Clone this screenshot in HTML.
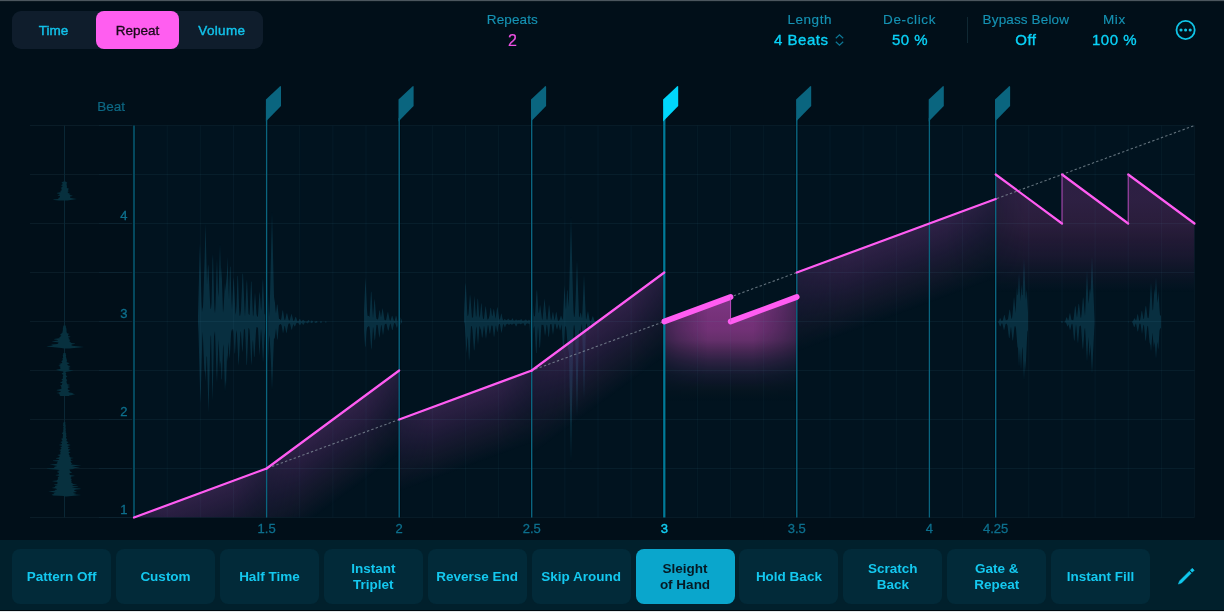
<!DOCTYPE html>
<html><head><meta charset="utf-8"><title>Repeat</title>
<style>
*{margin:0;padding:0;box-sizing:border-box}
html,body{width:1224px;height:612px;overflow:hidden;background:#010f19}
body{position:relative;font-family:"Liberation Sans",Arial,sans-serif;-webkit-font-smoothing:antialiased}
.topline{position:absolute;left:0;top:0;width:1224px;height:1px;background:#4b565e}
.topline2{position:absolute;left:0;top:1px;width:1224px;height:1px;background:#0b1820}
.seg{position:absolute;left:12px;top:11px;width:251px;height:38px;border-radius:9px;background:#0f1d2c}
.seg div{position:absolute;top:0;height:38px;line-height:39px;text-align:center;font-size:13.5px;color:#12c2ea;-webkit-text-stroke:0.4px #12c2ea}
.seg .sel{background:#ff5ef0;color:#1b0a1a;border-radius:8px;-webkit-text-stroke:0.35px #1b0a1a}
.lbl{position:absolute;font-size:13.5px;line-height:13.5px;color:#1592b3;text-align:center;white-space:nowrap;-webkit-text-stroke:0.15px #1592b3}
.val{position:absolute;font-size:15px;line-height:15px;color:#0ad2f8;text-align:center;white-space:nowrap;-webkit-text-stroke:0.35px #0ad2f8}
.sep{position:absolute;left:967px;top:17px;width:1px;height:26px;background:#102833}
.bar{position:absolute;left:0;top:540px;width:1224px;height:70px;background:#01202c}
.btm1{position:absolute;left:0;top:610px;width:1224px;height:1px;background:#000a10}
.btm2{position:absolute;left:0;top:611px;width:1224px;height:1px;background:#e8ecee}
.btn{position:absolute;top:549px;width:99px;height:55px;border-radius:8px;background:#022a39;color:#14c8ef;font-size:13.5px;font-weight:bold;display:flex;align-items:center;justify-content:center;text-align:center;line-height:16px}
.btn.on{background:#0aa6cc;color:#061a24}
</style></head><body>
<div class="topline"></div><div class="topline2"></div>
<svg width="1224" height="612" viewBox="0 0 1224 612" style="position:absolute;left:0;top:0">
<defs><linearGradient id="fgS" gradientUnits="userSpaceOnUse" x1="0" y1="175" x2="0" y2="292"><stop offset="0.0" stop-color="#633071" stop-opacity="0.45"/><stop offset="0.214" stop-color="#65306d" stop-opacity="0.45"/><stop offset="0.427" stop-color="#632d64" stop-opacity="0.42"/><stop offset="0.556" stop-color="#652862" stop-opacity="0.33"/><stop offset="0.684" stop-color="#652763" stop-opacity="0.25"/><stop offset="0.812" stop-color="#6d2a64" stop-opacity="0.13"/><stop offset="1.0" stop-color="#6d2a64" stop-opacity="0"/></linearGradient><linearGradient id="fgSm" gradientUnits="userSpaceOnUse" x1="995.7" y1="0" x2="1194.5" y2="0"><stop offset="0" stop-color="#fff" stop-opacity="0.8"/><stop offset="0.15" stop-color="#fff" stop-opacity="1"/><stop offset="1" stop-color="#fff" stop-opacity="1"/></linearGradient><mask id="mS" maskUnits="userSpaceOnUse" x="990" y="150" width="210" height="370"><rect x="990" y="150" width="210" height="370" fill="url(#fgSm)"/></mask><linearGradient id="pg0" gradientUnits="userSpaceOnUse" x1="134" y1="517.5" x2="157.6" y2="581.3"><stop offset="0.0" stop-color="#5d316f" stop-opacity="0.5"/><stop offset="0.206" stop-color="#602e6f" stop-opacity="0.4"/><stop offset="0.441" stop-color="#652d70" stop-opacity="0.27"/><stop offset="0.735" stop-color="#6d3264" stop-opacity="0.13"/><stop offset="1.0" stop-color="#6d3264" stop-opacity="0"/></linearGradient><linearGradient id="pm0g" gradientUnits="userSpaceOnUse" x1="134" y1="0" x2="266.6" y2="0"><stop offset="0" stop-color="#fff" stop-opacity="0.72"/><stop offset="0.25" stop-color="#fff" stop-opacity="1"/><stop offset="0.75" stop-color="#fff" stop-opacity="1"/><stop offset="1" stop-color="#fff" stop-opacity="0.72"/></linearGradient><mask id="pm0" maskUnits="userSpaceOnUse" x="133" y="100" width="134.6" height="430"><rect x="133" y="100" width="134.6" height="430" fill="url(#pm0g)"/></mask><linearGradient id="pg1" gradientUnits="userSpaceOnUse" x1="266.6" y1="468.5" x2="307" y2="523.2"><stop offset="0.0" stop-color="#5d316f" stop-opacity="0.5"/><stop offset="0.206" stop-color="#602e6f" stop-opacity="0.4"/><stop offset="0.441" stop-color="#652d70" stop-opacity="0.27"/><stop offset="0.735" stop-color="#6d3264" stop-opacity="0.13"/><stop offset="1.0" stop-color="#6d3264" stop-opacity="0"/></linearGradient><linearGradient id="pm1g" gradientUnits="userSpaceOnUse" x1="266.6" y1="0" x2="399.2" y2="0"><stop offset="0" stop-color="#fff" stop-opacity="0.72"/><stop offset="0.25" stop-color="#fff" stop-opacity="1"/><stop offset="0.75" stop-color="#fff" stop-opacity="1"/><stop offset="1" stop-color="#fff" stop-opacity="0.72"/></linearGradient><mask id="pm1" maskUnits="userSpaceOnUse" x="265.6" y="100" width="134.6" height="430"><rect x="265.6" y="100" width="134.6" height="430" fill="url(#pm1g)"/></mask><linearGradient id="pg2" gradientUnits="userSpaceOnUse" x1="399.2" y1="419.5" x2="422.7" y2="483.3"><stop offset="0.0" stop-color="#5d316f" stop-opacity="0.5"/><stop offset="0.206" stop-color="#602e6f" stop-opacity="0.4"/><stop offset="0.441" stop-color="#652d70" stop-opacity="0.27"/><stop offset="0.735" stop-color="#6d3264" stop-opacity="0.13"/><stop offset="1.0" stop-color="#6d3264" stop-opacity="0"/></linearGradient><linearGradient id="pm2g" gradientUnits="userSpaceOnUse" x1="399.2" y1="0" x2="531.7" y2="0"><stop offset="0" stop-color="#fff" stop-opacity="0.72"/><stop offset="0.25" stop-color="#fff" stop-opacity="1"/><stop offset="0.75" stop-color="#fff" stop-opacity="1"/><stop offset="1" stop-color="#fff" stop-opacity="0.72"/></linearGradient><mask id="pm2" maskUnits="userSpaceOnUse" x="398.2" y="100" width="134.6" height="430"><rect x="398.2" y="100" width="134.6" height="430" fill="url(#pm2g)"/></mask><linearGradient id="pg3" gradientUnits="userSpaceOnUse" x1="531.7" y1="370.5" x2="572.1" y2="425.2"><stop offset="0.0" stop-color="#5d316f" stop-opacity="0.5"/><stop offset="0.206" stop-color="#602e6f" stop-opacity="0.4"/><stop offset="0.441" stop-color="#652d70" stop-opacity="0.27"/><stop offset="0.735" stop-color="#6d3264" stop-opacity="0.13"/><stop offset="1.0" stop-color="#6d3264" stop-opacity="0"/></linearGradient><linearGradient id="pm3g" gradientUnits="userSpaceOnUse" x1="531.7" y1="0" x2="664.3" y2="0"><stop offset="0" stop-color="#fff" stop-opacity="0.72"/><stop offset="0.25" stop-color="#fff" stop-opacity="1"/><stop offset="0.75" stop-color="#fff" stop-opacity="1"/><stop offset="1" stop-color="#fff" stop-opacity="0.72"/></linearGradient><mask id="pm3" maskUnits="userSpaceOnUse" x="530.7" y="100" width="134.6" height="430"><rect x="530.7" y="100" width="134.6" height="430" fill="url(#pm3g)"/></mask><linearGradient id="pg4" gradientUnits="userSpaceOnUse" x1="796.8" y1="272.5" x2="822.8" y2="342.7"><stop offset="0.0" stop-color="#5d316f" stop-opacity="0.5"/><stop offset="0.206" stop-color="#602e6f" stop-opacity="0.4"/><stop offset="0.441" stop-color="#652d70" stop-opacity="0.27"/><stop offset="0.735" stop-color="#6d3264" stop-opacity="0.13"/><stop offset="1.0" stop-color="#6d3264" stop-opacity="0"/></linearGradient><linearGradient id="pm4g" gradientUnits="userSpaceOnUse" x1="796.8" y1="0" x2="995.7" y2="0"><stop offset="0" stop-color="#fff" stop-opacity="0.72"/><stop offset="0.25" stop-color="#fff" stop-opacity="1"/><stop offset="0.75" stop-color="#fff" stop-opacity="1"/><stop offset="1" stop-color="#fff" stop-opacity="0.72"/></linearGradient><mask id="pm4" maskUnits="userSpaceOnUse" x="795.8" y="100" width="200.8" height="430"><rect x="795.8" y="100" width="200.8" height="430" fill="url(#pm4g)"/></mask><linearGradient id="fgT" gradientUnits="userSpaceOnUse" x1="0" y1="297" x2="0" y2="402"><stop offset="0.0" stop-color="#d14dc7" stop-opacity="0.6"/><stop offset="0.2" stop-color="#d64bc4" stop-opacity="0.55"/><stop offset="0.314" stop-color="#da4dc6" stop-opacity="0.52"/><stop offset="0.41" stop-color="#d34fbf" stop-opacity="0.48"/><stop offset="0.505" stop-color="#d24fbc" stop-opacity="0.35"/><stop offset="0.6" stop-color="#cd54c0" stop-opacity="0.23"/><stop offset="0.743" stop-color="#b559b5" stop-opacity="0.1"/><stop offset="0.8" stop-color="#d851b9" stop-opacity="0.065"/><stop offset="0.933" stop-color="#97451f" stop-opacity="0.02"/><stop offset="1.0" stop-color="#97451f" stop-opacity="0"/></linearGradient><linearGradient id="fgTm" gradientUnits="userSpaceOnUse" x1="664.3" y1="0" x2="796.8" y2="0"><stop offset="0" stop-color="#fff" stop-opacity="0.55"/><stop offset="0.1" stop-color="#fff" stop-opacity="0.72"/><stop offset="0.33" stop-color="#fff" stop-opacity="1"/><stop offset="0.67" stop-color="#fff" stop-opacity="1"/><stop offset="0.9" stop-color="#fff" stop-opacity="0.7"/><stop offset="1" stop-color="#fff" stop-opacity="0.55"/></linearGradient><mask id="mT" maskUnits="userSpaceOnUse" x="600" y="250" width="260" height="270"><rect x="600" y="250" width="260" height="270" fill="url(#fgTm)"/></mask>
<clipPath id="plot"><rect x="134" y="125.5" width="1060.5" height="392"/></clipPath>
</defs>
<rect x="134" y="125.5" width="1060.5" height="392" fill="#01131f"/>
<line x1="30" y1="517.5" x2="99" y2="517.5" stroke="#0a1c27"/><line x1="99" y1="517.5" x2="134" y2="517.5" stroke="#0c2330"/><line x1="30" y1="468.5" x2="99" y2="468.5" stroke="#0a1c27"/><line x1="99" y1="468.5" x2="134" y2="468.5" stroke="#0c2330"/><line x1="30" y1="419.5" x2="99" y2="419.5" stroke="#0a1c27"/><line x1="99" y1="419.5" x2="134" y2="419.5" stroke="#0c2330"/><line x1="30" y1="370.5" x2="99" y2="370.5" stroke="#0a1c27"/><line x1="99" y1="370.5" x2="134" y2="370.5" stroke="#0c2330"/><line x1="30" y1="321.5" x2="99" y2="321.5" stroke="#0a1c27"/><line x1="99" y1="321.5" x2="134" y2="321.5" stroke="#0c2330"/><line x1="30" y1="272.5" x2="99" y2="272.5" stroke="#0a1c27"/><line x1="99" y1="272.5" x2="134" y2="272.5" stroke="#0c2330"/><line x1="30" y1="223.5" x2="99" y2="223.5" stroke="#0a1c27"/><line x1="99" y1="223.5" x2="134" y2="223.5" stroke="#0c2330"/><line x1="30" y1="174.5" x2="99" y2="174.5" stroke="#0a1c27"/><line x1="99" y1="174.5" x2="134" y2="174.5" stroke="#0c2330"/><line x1="30" y1="125.5" x2="99" y2="125.5" stroke="#0a1c27"/><line x1="99" y1="125.5" x2="134" y2="125.5" stroke="#0c2330"/>
<line x1="64.5" y1="125.5" x2="64.5" y2="517.5" stroke="#0a2735" stroke-width="1"/>
<path d="M64 496.5 L63.9 496 L52.6 495.5 L52.6 495 L51.4 494.5 L53.9 494 L54.3 493.5 L52.9 493 L56 492.5 L51.5 492 L48.1 491.5 L52.7 491 L55.5 490.5 L54.7 490 L56.9 489.5 L56.8 489 L55.6 488.5 L51.5 488 L53.4 487.5 L54.8 487 L55.3 486.5 L54.9 486 L57.6 485.5 L54.6 485 L54 484.5 L57.2 484 L57.7 483.5 L56.7 483 L57.7 482.5 L57.6 482 L53.8 481.5 L51.8 481 L56.8 480.5 L57 480 L58.3 479.5 L57.1 479 L58.4 478.5 L57.7 478 L57.7 477.5 L58.2 477 L58.8 476.5 L59.3 476 L56.6 475.5 L55.2 475 L58.5 474.5 L58.6 474 L59 473.5 L58.8 473 L56.8 472.5 L59.1 472 L57.4 471.5 L57.1 471 L59.2 470.5 L59.4 470 L55.2 469.5 L47.9 469 L46.4 468.5 L53.8 468 L54.5 467.5 L54.3 467 L55.4 466.5 L57.3 466 L54.7 465.5 L52.6 465 L49.4 464.5 L55.6 464 L57.6 463.5 L56.7 463 L57.4 462.5 L57.4 462 L58.1 461.5 L53 461 L53.1 460.5 L58.1 460 L59.3 459.5 L58.7 459 L55.8 458.5 L56.2 458 L58.8 457.5 L59.3 457 L59.6 456.5 L59.6 456 L58.2 455.5 L57.2 455 L59.7 454.5 L60.8 454 L60 453.5 L60.8 453 L59.9 452.5 L60.3 452 L60.7 451.5 L60.7 451 L60.2 450.5 L58.9 450 L60.7 449.5 L61.1 449 L61.5 448.5 L61 448 L60.1 447.5 L61.3 447 L61.7 446.5 L62 446 L60.8 445.5 L58.6 445 L60.6 444.5 L62 444 L61.9 443.5 L62 443 L60.8 442.5 L60.5 442 L61.7 441.5 L62.6 441 L62.2 440.5 L62.1 440 L62 439.5 L60.7 439 L62.1 438.5 L63 438 L62.5 437.5 L63 437 L62.7 436.5 L62.6 436 L63 435.5 L63.1 435 L62.9 434.5 L62.9 434 L61.9 433.5 L61.9 433 L62.9 432.5 L63 432 L63.3 431.5 L63.2 431 L63.1 430.5 L63.4 430 L63.3 429.5 L63.3 429 L63.5 428.5 L63.3 428 L63.1 427.5 L63.5 427 L63.7 426.5 L63.5 426 L63 425.5 L62.8 425 L63.3 424.5 L63.5 424 L63.1 423.5 L63.1 423 L63.6 422.5 L64 422 L65.1 422 L65.4 422.5 L65.4 423 L65.2 423.5 L65.4 424 L65.4 424.5 L65.3 425 L65.6 425.5 L65.9 426 L65.6 426.5 L65.3 427 L65.5 427.5 L65.7 428 L65.7 428.5 L65.7 429 L65.8 429.5 L65.8 430 L65.6 430.5 L65.5 431 L66 431.5 L65.7 432 L65.8 432.5 L66 433 L66.4 433.5 L66.2 434 L66.2 434.5 L66.1 435 L66.3 435.5 L66.2 436 L66.9 436.5 L66 437 L66 437.5 L66 438 L66.5 438.5 L66.6 439 L67.4 439.5 L66.8 440 L66.5 440.5 L66.3 441 L67.1 441.5 L68.2 442 L68.4 442.5 L67.3 443 L66.7 443.5 L67.5 444 L69.1 444.5 L70.8 445 L69.3 445.5 L67.6 446 L67.6 446.5 L69.4 447 L69.8 447.5 L68.2 448 L68.2 448.5 L67.9 449 L70.5 449.5 L70.1 450 L68.7 450.5 L68.8 451 L68.2 451.5 L69.4 452 L70.7 452.5 L69.2 453 L68.5 453.5 L69.4 454 L68.7 454.5 L69 455 L69.8 455.5 L69.5 456 L69.6 456.5 L69.6 457 L70.9 457.5 L73.9 458 L71 458.5 L70.4 459 L71.3 459.5 L70.2 460 L73.2 460.5 L70.5 461 L70.6 461.5 L71.1 462 L71.1 462.5 L71.4 463 L72.6 463.5 L71.3 464 L71.1 464.5 L75.9 465 L81.6 465.5 L75.5 466 L72.1 466.5 L76.1 467 L80.4 467.5 L75.8 468 L73.5 468.5 L73.7 469 L69.5 469.5 L69.4 470 L70 470.5 L70.3 471 L70.1 471.5 L71.7 472 L72 472.5 L70.6 473 L69.3 473.5 L69.4 474 L69.8 474.5 L70.5 475 L73.4 475.5 L75 476 L71.5 476.5 L70.8 477 L71.5 477.5 L70.2 478 L71.1 478.5 L71.5 479 L71.9 479.5 L71 480 L71.1 480.5 L72 481 L71.6 481.5 L71.1 482 L71.5 482.5 L71.7 483 L72.7 483.5 L73.2 484 L77.6 484.5 L73.6 485 L71.9 485.5 L73.9 486 L78.7 486.5 L77.1 487 L71.8 487.5 L74.7 488 L79.8 488.5 L81.3 489 L76.2 489.5 L74.1 490 L74.3 490.5 L74.8 491 L76.4 491.5 L76.9 492 L73.7 492.5 L73.1 493 L76.5 493.5 L73.6 494 L76.4 494.5 L81.3 495 L76.4 495.5 L71.6 496 L66.8 496.5ZM59.2 396 L60.4 395.5 L59.6 395 L59.7 394.5 L59.3 394 L59 393.5 L56.2 393 L58.8 392.5 L60 392 L61.2 391.5 L59.9 391 L57.2 390.5 L56.3 390 L58.9 389.5 L60.8 389 L61.7 388.5 L61.2 388 L61.4 387.5 L61.2 387 L61.2 386.5 L60.7 386 L60 385.5 L61.8 385 L61.9 384.5 L62.1 384 L62.5 383.5 L61.4 383 L59.9 382.5 L61.1 382 L62.2 381.5 L62.2 381 L62.6 380.5 L62.4 380 L61.3 379.5 L62 379 L63 378.5 L62.9 378 L62.7 377.5 L63.1 377 L62.5 376.5 L63 376 L63.1 375.5 L63.3 375 L62.8 374.5 L61.9 374 L61.7 373.5 L62.6 373 L63.4 372.5 L63.2 372 L63.3 371.5 L59.7 371 L58.3 370.5 L55.9 370 L57.3 369.5 L59.8 369 L60.9 368.5 L59.9 368 L60.3 367.5 L60.3 367 L60.3 366.5 L58.5 366 L58.9 365.5 L60.6 365 L60.3 364.5 L58.8 364 L60.8 363.5 L61.8 363 L62.1 362.5 L62.4 362 L61.2 361.5 L61.4 361 L62.3 360.5 L62.8 360 L62.6 359.5 L62.7 359 L62.2 358.5 L62.9 358 L63.1 357.5 L63.1 357 L63 356.5 L62.8 356 L62.7 355.5 L63 355 L63.2 354.5 L63.2 354 L63.3 353.5 L63.4 353 L65.7 353 L65.7 353.5 L65.6 354 L65.9 354.5 L65.9 355 L66.2 355.5 L66.1 356 L65.8 356.5 L65.9 357 L66.2 357.5 L66.4 358 L66.3 358.5 L66.7 359 L66.8 359.5 L66.5 360 L67.4 360.5 L66.7 361 L66.9 361.5 L66.5 362 L67.6 362.5 L69.2 363 L69.4 363.5 L67.8 364 L67.2 364.5 L67.6 365 L68.2 365.5 L70.1 366 L70.4 366.5 L68.4 367 L69.1 367.5 L70.9 368 L69.1 368.5 L68.5 369 L69.2 369.5 L70.1 370 L73.7 370.5 L71.7 371 L68.2 371.5 L65.5 372 L65.5 372.5 L65.9 373 L66.3 373.5 L66.2 374 L65.6 374.5 L66.1 375 L66 375.5 L66.9 376 L67.4 376.5 L66.5 377 L66.1 377.5 L66.2 378 L66 378.5 L66.4 379 L66.6 379.5 L67.4 380 L67 380.5 L66.5 381 L66.5 381.5 L66.6 382 L66.5 382.5 L67.2 383 L67.2 383.5 L66.6 384 L68.4 384.5 L70.2 385 L68.3 385.5 L67.4 386 L68.6 386.5 L70.2 387 L68.9 387.5 L68 388 L67.9 388.5 L67.6 389 L68 389.5 L68.9 390 L70.4 390.5 L68.9 391 L68.5 391.5 L68.3 392 L69.6 392.5 L72.6 393 L74 393.5 L71.5 394 L75.5 394.5 L72.6 395 L69.3 395.5 L69 396ZM64 348.5 L61.3 348 L56.4 347.5 L51.4 347 L46.4 346.5 L48.4 346 L53.3 345.5 L51.2 345 L51.9 344.5 L57.1 344 L58.4 343.5 L57.9 343 L58.9 342.5 L55.7 342 L51.5 341.5 L53.8 341 L58 340.5 L57.6 340 L54.5 339.5 L53.9 339 L57.1 338.5 L60.3 338 L58.7 337.5 L60.1 337 L60.3 336.5 L61.3 336 L61.1 335.5 L59.9 335 L60.2 334.5 L61.3 334 L61.6 333.5 L61.4 333 L62.5 332.5 L62.7 332 L62.5 331.5 L62.5 331 L62.9 330.5 L62.7 330 L62.9 329.5 L62.9 329 L62.8 328.5 L62.9 328 L63.1 327.5 L63.1 327 L63.1 326.5 L63.5 326 L63.3 325.5 L65.7 325.5 L65.8 326 L65.9 326.5 L65.8 327 L65.9 327.5 L66.4 328 L66.3 328.5 L66.3 329 L66.4 329.5 L66.8 330 L66.6 330.5 L66.2 331 L66.5 331.5 L67 332 L66.8 332.5 L66.6 333 L68 333.5 L69.5 334 L68.5 334.5 L67.7 335 L68.4 335.5 L67.9 336 L70.1 336.5 L70.6 337 L68.4 337.5 L68.3 338 L69.5 338.5 L68.5 339 L69.8 339.5 L69.6 340 L70.5 340.5 L69 341 L69.8 341.5 L70.4 342 L70.6 342.5 L71.7 343 L75.1 343.5 L74.6 344 L71.2 344.5 L72.2 345 L71.2 345.5 L74.4 346 L79.4 346.5 L84.2 347 L79.3 347.5 L74.3 348 L69.3 348.5ZM59.2 200.5 L54.2 200 L52.9 199.5 L57.9 199 L58.8 198.5 L58 198 L59.7 197.5 L59.6 197 L60.1 196.5 L59.6 196 L57.4 195.5 L58.3 195 L59.6 194.5 L59.6 194 L57.2 193.5 L56.6 193 L58.9 192.5 L61.3 192 L60.5 191.5 L59.7 191 L61.7 190.5 L61.2 190 L61.9 189.5 L61.3 189 L61.6 188.5 L60.5 188 L61.4 187.5 L62.2 187 L62.4 186.5 L62.5 186 L61.2 185.5 L61.1 185 L62.4 184.5 L62.5 184 L62.7 183.5 L61.8 183 L61.6 182.5 L62.5 182 L63.5 181.5 L65.5 181.5 L66.3 182 L67 182.5 L67.4 183 L66.6 183.5 L66.5 184 L66.6 184.5 L66.8 185 L66.6 185.5 L67.4 186 L66.8 186.5 L66.9 187 L66.7 187.5 L67.2 188 L68.2 188.5 L69.4 189 L68.1 189.5 L67.9 190 L67.9 190.5 L69.2 191 L68.1 191.5 L67.5 192 L67.9 192.5 L68.1 193 L69.2 193.5 L70.9 194 L69.3 194.5 L69.7 195 L72.1 195.5 L72.7 196 L70.1 196.5 L70.1 197 L69.9 197.5 L71.1 198 L73.7 198.5 L76.9 199 L73.9 199.5 L70.6 200 L67.4 200.5Z" fill="#07303e"/>
<path d="M198 315.7 L198.5 296 L199 276.2 L199.5 256.4 L200 243 L200.5 262.7 L201 282.5 L201.5 302.3 L202 312.2 L202.5 308.6 L203 306.9 L203.5 294.1 L204 277.6 L204.5 263.9 L205 243.6 L205.5 223 L206 243.6 L206.5 264.2 L207 284.9 L207.5 275.1 L208 263.9 L208.5 267 L209 278.5 L209.5 289.9 L210 301.4 L210.5 309.1 L211 308.6 L211.5 303.3 L212 281.6 L212.5 259.9 L213 253.8 L213.5 275.5 L214 297.1 L214.5 309.2 L215 313.6 L215.5 305.8 L216 288.6 L216.5 271.5 L217 257.7 L217.5 274.8 L218 291.9 L218.5 297.2 L219 279.5 L219.5 261.7 L220 244 L220.5 261.7 L221 279.5 L221.5 266.4 L222 281.9 L222.5 297.3 L223 312.8 L223.5 309.3 L224 300.2 L224.5 291.1 L225 282 L225.5 291.1 L226 284.6 L226.5 278.9 L227 272.5 L227.5 256 L228 272.5 L228.5 289 L229 299.8 L229.5 283.1 L230 266.4 L230.5 266.9 L231 283.6 L231.5 300.3 L232 309.8 L232.5 298.8 L233 287.8 L233.5 276.8 L234 282.1 L234.5 293.1 L235 304.1 L235.5 314.7 L236 312.3 L236.5 305.4 L237 290.4 L237.5 275.4 L238 276.4 L238.5 291.3 L239 306.3 L239.5 315.2 L240 316.2 L240.5 313.8 L241 309.9 L241.5 297.9 L242 285.9 L242.5 274 L243 273.2 L243.5 285.2 L244 297.2 L244.5 309.2 L245 316.5 L245.5 306.7 L246 295.1 L246.5 283.6 L247 279 L247.5 290.5 L248 302.1 L248.5 313.6 L249 314.8 L249.5 315.1 L250 307.3 L250.5 294.5 L251 281.7 L251.5 281.6 L252 294.4 L252.5 307.2 L253 316.7 L253.5 314.7 L254 307.1 L254.5 299.5 L255 292 L255.5 298.9 L256 306.5 L256.5 314.1 L257 316.2 L257.5 317 L258 315.7 L258.5 307.7 L259 299.6 L259.5 291.6 L260 295 L260.5 303 L261 311 L261.5 307.4 L262 295 L262.5 282.7 L263 278 L263.5 290.4 L264 302.8 L264.5 314.7 L265 313.8 L265.5 315.9 L266 310.7 L266.5 298 L267 285.3 L267.5 279.8 L268 292.5 L268.5 305.1 L269 317.1 L269.5 310.5 L270 296.6 L270.5 275.5 L271 254.3 L271.5 233.2 L272 212 L272.5 233.2 L273 254.3 L273.5 275.5 L274 296.6 L274.5 299.9 L275 303 L275.5 309.9 L276 313.4 L276.5 308.9 L277 304.3 L277.5 305.1 L278 309.7 L278.5 314.2 L279 318.8 L279.5 318.9 L280 319.1 L280.5 320 L281 320.1 L281.5 317.4 L282 314 L282.5 310.6 L283 310.4 L283.5 313.8 L284 317.3 L284.5 319.8 L285 320.2 L285.5 318.6 L286 316.2 L286.5 313.9 L287 312.7 L287.5 315 L288 317.3 L288.5 319.6 L289 320.4 L289.5 320.4 L290 319.2 L290.5 317.3 L291 315.4 L291.5 313.6 L292 315.5 L292.5 317.5 L293 319.4 L293.5 320.9 L294 321.1 L294.5 319.8 L295 318.3 L295.5 316.8 L296 317 L296.5 318.5 L297 320 L297.5 321.2 L298 321.3 L298.5 320.9 L299 320 L299.5 319.1 L300 319.1 L300.5 320 L301 321 L301.5 321.5 L302 320.9 L302.5 320.3 L303 319.7 L303.5 319.9 L304 320.5 L304.5 321.1 L305 321.5 L305.5 321.5 L306 321.5 L306.5 321.5 L307 321.5 L307.5 321.1 L308 320.4 L308.5 319.8 L309 320.4 L309.5 321.1 L309.5 322.5 L309 322.5 L308.5 322.6 L308 323.1 L307.5 323.5 L307 323.3 L306.5 322.8 L306 322.5 L305.5 322.5 L305 322.5 L304.5 322.9 L304 323.9 L303.5 324.8 L303 324.8 L302.5 323.9 L302 322.9 L301.5 323.1 L301 323.8 L300.5 324.6 L300 325.4 L299.5 324.8 L299 324.1 L298.5 323.3 L298 322.9 L297.5 322.8 L297 322.9 L296.5 322.9 L296 324 L295.5 325.2 L295 326.3 L294.5 326.4 L294 325.3 L293.5 324.1 L293 325.3 L292.5 327.3 L292 329.4 L291.5 329.8 L291 327.7 L290.5 325.6 L290 323.6 L289.5 323.4 L289 323.5 L288.5 323.7 L288 325.4 L287.5 328.1 L287 330.8 L286.5 333.5 L286 331.7 L285.5 329 L285 326.2 L284.5 325.8 L284 328.6 L283.5 331.4 L283 333.4 L282.5 330.6 L282 327.8 L281.5 325 L281 324.5 L280.5 324.1 L280 324.2 L279.5 324.8 L279 324.9 L278.5 329.4 L278 334.8 L277.5 340.2 L277 337.9 L276.5 332.5 L276 328.3 L275.5 332.2 L275 336.2 L274.5 339.2 L274 337.7 L273.5 350.8 L273 363.8 L272.5 376.9 L272 390 L271.5 376.9 L271 363.8 L270.5 352.6 L270 343.9 L269.5 335.2 L269 338.6 L268.5 350.4 L268 362.2 L267.5 358.1 L267 346.4 L266.5 334.6 L266 328.1 L265.5 330.5 L265 331.4 L264.5 337.2 L264 347 L263.5 356.8 L263 362.9 L262.5 353.1 L262 343.2 L261.5 333.4 L261 328.4 L260.5 336.3 L260 346.2 L259.5 356.2 L259 347 L258.5 337.1 L258 327.8 L257.5 327.6 L257 327.2 L256.5 327 L256 331.2 L255.5 339.8 L255 348.3 L254.5 356.9 L254 356.6 L253.5 348 L253 339.5 L252.5 342.2 L252 353.8 L251.5 365.5 L251 360.6 L250.5 349 L250 337.4 L249.5 329.9 L249 328.6 L248.5 327.7 L248 338.1 L247.5 351.2 L247 364.2 L246.5 365.2 L246 352.2 L245.5 339.1 L245 329.4 L244.5 329.4 L244 328.6 L243.5 336.3 L243 344.4 L242.5 352.5 L242 349 L241.5 340.8 L241 332.7 L240.5 330.8 L240 339.1 L239.5 349.6 L239 360.1 L238.5 366.1 L238 355.5 L237.5 345 L237 334.5 L236.5 330.1 L236 333.8 L235.5 343.9 L235 353.9 L234.5 352.4 L234 342.4 L233.5 332.3 L233 328.9 L232.5 329.3 L232 331.7 L231.5 329.2 L231 334.5 L230.5 344.1 L230 353.7 L229.5 358.7 L229 349.1 L228.5 342 L228 352 L227.5 362 L227 354.7 L226.5 370.6 L226 386.5 L225.5 380.1 L225 392 L224.5 376.1 L224 360.2 L223.5 344.3 L223 347.3 L222.5 362.9 L222 378.5 L221.5 380 L221 364.4 L220.5 360.6 L220 372 L219.5 360.6 L219 349.3 L218.5 339.2 L218 353.8 L217.5 368.5 L217 383.2 L216.5 374 L216 359.4 L215.5 344.7 L215 331 L214.5 333.8 L214 336.8 L213.5 359.6 L213 382.5 L212.5 401.3 L212 378.4 L211.5 355.5 L211 334.8 L210.5 337.2 L210 356.1 L209.5 375.1 L209 394 L208.5 413 L208 394 L207.5 375.1 L207 356.1 L206.5 357 L206 369.5 L205.5 382 L205 369.5 L204.5 372.4 L204 362.6 L203.5 350.5 L203 338.4 L202.5 331.4 L202 349 L201.5 367.3 L201 385.6 L200.5 403.9 L200 388.5 L199.5 370.1 L199 351.8 L198.5 333.5 L198 322.5ZM310.5 321.5 L311 321 L311.5 320.5 L312 320.4 L312.5 320.9 L313 321.4 L313 322.5 L312.5 322.5 L312 322.8 L311.5 323.2 L311 323.1 L310.5 322.7ZM314.5 321.5 L315 321.5 L315.5 321.4 L316 321.1 L316.5 321 L317 321.3 L317.5 321.5 L317.5 322.5 L317 322.6 L316.5 322.8 L316 323.1 L315.5 322.9 L315 322.7 L314.5 322.5ZM320 321.5 L320.5 321.5 L321 321.3 L321.5 321.4 L322 321.5 L322 322.5 L321.5 322.5 L321 322.7 L320.5 322.7 L320 322.5ZM325 321.5 L325.5 321.4 L326 321.4 L326.5 321.5 L326.5 322.5 L326 322.5 L325.5 322.5 L325 322.5ZM364 310.9 L364.5 299.7 L365 288.6 L365.5 277.5 L366 287.4 L366.5 298.5 L367 309.6 L367.5 315.5 L368 315.9 L368.5 315.8 L369 316.2 L369.5 317.1 L370 309.7 L370.5 300.4 L371 291.2 L371.5 292.4 L372 301.7 L372.5 310.9 L373 318.2 L373.5 312.2 L374 305.3 L374.5 298.5 L375 302.6 L375.5 309.4 L376 316.3 L376.5 318.7 L377 319.2 L377.5 319.4 L378 319.3 L378.5 317.1 L379 313.6 L379.5 310.1 L380 311.3 L380.5 314.8 L381 317.5 L381.5 314.4 L382 311.3 L382.5 308.1 L383 310.4 L383.5 313.6 L384 316.7 L384.5 319.7 L385 320.2 L385.5 320 L386 320.4 L386.5 318.1 L387 315.5 L387.5 313 L388 311.6 L388.5 314.2 L389 316.7 L389.5 319.3 L390 320.7 L390.5 320.5 L391 319 L391.5 317.3 L392 315.6 L392.5 316.2 L393 317.9 L393.5 319.6 L394 321.1 L394.5 320.9 L395 319.4 L395.5 317.4 L396 315.3 L396.5 316.7 L397 318.7 L397.5 320.7 L398 321.2 L398.5 321.2 L399 320.5 L399.5 319.3 L400 318.1 L400.5 317.2 L401 318.4 L401.5 319.6 L402 320.9 L402 322.5 L401.5 323 L401 323.8 L400.5 324.7 L400 325 L399.5 324.2 L399 323.4 L398.5 323.8 L398 325.3 L397.5 326.8 L397 328.3 L396.5 327.1 L396 325.6 L395.5 324.1 L395 322.9 L394.5 322.9 L394 323.4 L393.5 325.7 L393 327.9 L392.5 330.2 L392 329.7 L391.5 327.4 L391 325.2 L390.5 323.4 L390 324 L389.5 326.2 L389 328.4 L388.5 330.6 L388 330.7 L387.5 328.5 L387 326.3 L386.5 324.1 L386 323.6 L385.5 324.1 L385 324 L384.5 325.5 L384 329.1 L383.5 332.6 L383 335.4 L382.5 331.9 L382 328.3 L381.5 324.8 L381 325.8 L380.5 329.8 L380 333.8 L379.5 337.9 L379 335.7 L378.5 331.7 L378 327.6 L377.5 324.7 L377 325.1 L376.5 324.8 L376 329.8 L375.5 335.1 L375 340.5 L374.5 339.6 L374 334.3 L373.5 328.9 L373 326.8 L372.5 334.1 L372 342 L371.5 349.9 L371 347.2 L370.5 339.3 L370 331.4 L369.5 326.9 L369 326.3 L368.5 326.1 L368 327.1 L367.5 326.9 L367 327.9 L366.5 331.6 L366 339.5 L365.5 347.4 L365 345.8 L364.5 337.9 L364 330.1ZM464 313.6 L464.5 303.2 L465 292.9 L465.5 282.5 L466 286.8 L466.5 297.2 L467 307.5 L467.5 315.7 L468 316 L468.5 313.9 L469 307.3 L469.5 300.6 L470 293.9 L470.5 298.1 L471 304.8 L471.5 311.4 L472 318.1 L472.5 317 L473 318.1 L473.5 310.8 L474 303.1 L474.5 295.6 L475 303.2 L475.5 310.9 L476 317.4 L476.5 315.2 L477 307.3 L477.5 299.4 L478 298.2 L478.5 306.1 L479 313.9 L479.5 317.9 L480 315.8 L480.5 310.9 L481 304.8 L481.5 302.7 L482 308.8 L482.5 314.9 L483 318.3 L483.5 319.3 L484 318.4 L484.5 314.6 L485 310.3 L485.5 306 L486 307.7 L486.5 311.9 L487 316.2 L487.5 319.5 L488 319.6 L488.5 318.8 L489 317.5 L489.5 315.5 L490 311.6 L490.5 307.7 L491 308 L491.5 311.9 L492 315.8 L492.5 316.1 L493 312.8 L493.5 309.6 L494 309.1 L494.5 312.3 L495 315.5 L495.5 318.7 L496 315.9 L496.5 312.1 L497 308.4 L497.5 306.8 L498 310.6 L498.5 314.3 L499 318.1 L499.5 319.7 L500 319 L500.5 317.1 L501 314.5 L501.5 313.3 L502 315.9 L502.5 318.4 L503 319.8 L503.5 320.4 L504 320 L504.5 319 L505 318.8 L505.5 319.8 L506 320.2 L506.5 320.1 L507 319.9 L507.5 319.4 L508 318.4 L508.5 318.8 L509 319.7 L509.5 319.8 L510 319.9 L510.5 320.2 L511 319.8 L511.5 320 L512 318.9 L512.5 318.1 L513 319.2 L513.5 320.3 L514 320.4 L514.5 320.4 L515 320.2 L515.5 319.9 L516 319.2 L516.5 319.8 L517 320 L517.5 320.4 L518 320 L518.5 320.1 L519 320.2 L519.5 320.1 L520 320.3 L520.5 319.8 L521 318.9 L521.5 319.2 L522 320.1 L522.5 320.7 L523 320.7 L523.5 320.8 L524 320.3 L524.5 320.5 L525 320.1 L525.5 319.5 L526 319.5 L526.5 320.1 L527 320.6 L527.5 320.7 L528 320.7 L528.5 320.1 L529 319.6 L529.5 320.3 L530 320.5 L530.5 313.9 L531 307.1 L531.5 300.2 L532 293.3 L532.5 297.9 L533 304.8 L533.5 311.7 L534 316.5 L534.5 316.3 L535 315.7 L535.5 307.9 L536 300 L536.5 292.2 L537 289.3 L537.5 297.2 L538 305 L538.5 312.8 L539 312.8 L539.5 308.7 L540 304.6 L540.5 307.1 L541 311.2 L541.5 315.3 L542 319.2 L542.5 319.7 L543 314.4 L543.5 309 L544 303.7 L544.5 298.3 L545 303.1 L545.5 308.4 L546 313.8 L546.5 319.1 L547 320 L547.5 319.3 L548 314.5 L548.5 309.2 L549 304 L549.5 307.2 L550 312.4 L550.5 317.6 L551 320.2 L551.5 319.2 L552 316.2 L552.5 313.2 L553 311.4 L553.5 314.4 L554 317.4 L554.5 320.4 L555 318.6 L555.5 315.4 L556 312.2 L556.5 312.2 L557 315.4 L557.5 318.6 L558 321 L558.5 320.8 L559 320.6 L559.5 320.1 L560 318.5 L560.5 316.9 L561 315.3 L561.5 316.8 L562 318.4 L562.5 320 L563 317.5 L563.5 306.4 L564 295.4 L564.5 284.4 L565 294.4 L565.5 305.5 L566 309.9 L566.5 300.9 L567 291.9 L567.5 289.3 L568 298.3 L568.5 307.3 L569 297.8 L569.5 277.6 L570 257.4 L570.5 237.2 L571 217 L571.5 237.2 L572 257.4 L572.5 277.6 L573 297.8 L573.5 311.1 L574 317 L574.5 316.8 L575 312.2 L575.5 302.3 L576 288.2 L576.5 274.1 L577 260 L577.5 274.1 L578 288.2 L578.5 302.3 L579 316.4 L579.5 317.5 L580 314.9 L580.5 312.4 L581 313.3 L581.5 315.9 L582 318.5 L582.5 310 L583 298 L583.5 286 L584 274 L584.5 286 L585 298 L585.5 310 L586 319.7 L586.5 318.5 L587 315.7 L587.5 313 L588 311.1 L588.5 313.8 L589 316.6 L589.5 319.4 L590 320.8 L590.5 321 L591 321.1 L591.5 319.7 L592 318.2 L592.5 316.6 L593 316.2 L593.5 317.8 L594 319.3 L594.5 320.9 L595 321.3 L595.5 321.1 L596 321.4 L596.5 321.4 L597 321.3 L597 322.9 L596.5 322.6 L596 322.8 L595.5 322.9 L595 322.9 L594.5 322.6 L594 324.1 L593.5 325.7 L593 327.3 L592.5 327.9 L592 326.3 L591.5 324.8 L591 323.2 L590.5 322.8 L590 324.8 L589.5 327.6 L589 330.3 L588.5 333.1 L588 330.8 L587.5 328.1 L587 325.3 L586.5 323.2 L586 324.2 L585.5 341.5 L585 361 L584.5 380.5 L584 400 L583.5 380.5 L583 361 L582.5 341.5 L582 323.6 L581.5 325.4 L581 329.2 L580.5 332.9 L580 333.7 L579.5 330 L579 330.6 L578.5 352.2 L578 373.8 L577.5 395.4 L577 417 L576.5 395.4 L576 373.8 L575.5 352.2 L575 331.4 L574.5 326.3 L574 324.4 L573.5 328.5 L573 354.3 L572.5 381.2 L572 408.2 L571.5 435.1 L571 462 L570.5 435.1 L570 408.2 L569.5 381.2 L569 354.3 L568.5 348.7 L568 351.2 L567.5 344.3 L567 337.4 L566.5 330.4 L566 326.8 L565.5 326.3 L565 326.7 L564.5 335.1 L564 344.1 L563.5 353.1 L563 348.8 L562.5 339.8 L562 330.8 L561.5 324.3 L561 326.7 L560.5 329.2 L560 331 L559.5 328.5 L559 326.1 L558.5 324.1 L558 326 L557.5 327.9 L557 329.8 L556.5 328.2 L556 326.2 L555.5 324.3 L555 323.5 L554.5 324.2 L554 327.9 L553.5 331.6 L553 335.2 L552.5 331.7 L552 328 L551.5 324.3 L551 323.9 L550.5 324 L550 325.6 L549.5 330.6 L549 335.7 L548.5 337.6 L548 332.6 L547.5 327.6 L547 324.5 L546.5 325.3 L546 329.4 L545.5 333.5 L545 336.3 L544.5 332.2 L544 328.1 L543.5 325.4 L543 324.6 L542.5 325 L542 324.9 L541.5 324.6 L541 331.3 L540.5 339.5 L540 347.7 L539.5 347.6 L539 339.3 L538.5 331.1 L538 326.1 L537.5 334.3 L537 343.6 L536.5 352.9 L536 353.1 L535.5 343.8 L535 334.5 L534.5 325.7 L534 327.4 L533.5 327.6 L533 336.3 L532.5 345.3 L532 354.4 L531.5 359.3 L531 350.3 L530.5 341.3 L530 332.2 L529.5 323.8 L529 324.3 L528.5 323.7 L528 323.3 L527.5 323.6 L527 323.6 L526.5 323.7 L526 324.3 L525.5 325.3 L525 326.2 L524.5 325.2 L524 324.3 L523.5 323.3 L523 323.2 L522.5 323.6 L522 323.5 L521.5 323.7 L521 324.4 L520.5 324.3 L520 323.7 L519.5 323.4 L519 324.1 L518.5 323.8 L518 323.5 L517.5 323.8 L517 324.9 L516.5 326 L516 326.7 L515.5 325.6 L515 324.5 L514.5 323.4 L514 324 L513.5 323.5 L513 324.3 L512.5 324.3 L512 325 L511.5 324.4 L511 324.3 L510.5 323.7 L510 323.9 L509.5 324.6 L509 325.3 L508.5 324.4 L508 324.1 L507.5 323.7 L507 323.8 L506.5 324.5 L506 324.6 L505.5 326 L505 327.4 L504.5 326.6 L504 325.1 L503.5 324 L503 324.8 L502.5 327.8 L502 330.7 L501.5 333.3 L501 330.4 L500.5 327.5 L500 324.6 L499.5 324.1 L499 324.1 L498.5 325.8 L498 329 L497.5 332.1 L497 331.5 L496.5 328.3 L496 325.2 L495.5 326.7 L495 330.8 L494.5 335 L494 337.8 L493.5 333.7 L493 329.5 L492.5 325.3 L492 326.3 L491.5 325 L491 327.9 L490.5 331 L490 334.2 L489.5 332.8 L489 329.6 L488.5 326.5 L488 324.6 L487.5 327.6 L487 331.5 L486.5 335.3 L486 339.2 L485.5 335.8 L485 332 L484.5 328.1 L484 325.6 L483.5 329 L483 333 L482.5 337.1 L482 338 L481.5 333.9 L481 329.9 L480.5 329.1 L480 327.1 L479.5 325.9 L479 332.5 L478.5 339.1 L478 345.6 L477.5 338.9 L477 332.3 L476.5 326.3 L476 328.5 L475.5 335.4 L475 342.3 L474.5 349.2 L474 351 L473.5 344.1 L473 337.2 L472.5 330.4 L472 327.2 L471.5 326.1 L471 325.9 L470.5 335.1 L470 346 L469.5 357 L469 361.4 L468.5 350.4 L468 339.5 L467.5 335.9 L467 344.7 L466.5 353.5 L466 345.4 L465.5 336.5 L465 327.7 L464.5 322.5 L464 322.5ZM995 321.5 L995.5 321.5 L996 321.5 L996.5 321.5 L996.5 322.5 L996 322.5 L995.5 322.6 L995 322.5ZM998 321.5 L998.5 321.5 L999 320.7 L999.5 319.4 L1000 318.1 L1000.5 318.4 L1001 319.7 L1001.5 321 L1002 320.7 L1002.5 320.8 L1003 319.8 L1003.5 317.7 L1004 315.6 L1004.5 314.8 L1005 316.9 L1005.5 319 L1006 320.4 L1006.5 319.7 L1007 320.3 L1007.5 319.5 L1008 318.9 L1008.5 315.8 L1009 312.7 L1009.5 309.6 L1010 310.1 L1010.5 313.2 L1011 316.3 L1011.5 318.9 L1012 318.3 L1012.5 314.6 L1013 308.5 L1013.5 302.5 L1014 296.4 L1014.5 301.2 L1015 307.3 L1015.5 313.3 L1016 304.3 L1016.5 295.1 L1017 286 L1017.5 295.1 L1018 294.7 L1018.5 283.4 L1019 272 L1019.5 283.4 L1020 294.7 L1020.5 301.1 L1021 290.2 L1021.5 284.4 L1022 295.3 L1022.5 294.9 L1023 282.6 L1023.5 270.3 L1024 258 L1024.5 270.3 L1025 282.6 L1025.5 294.9 L1026 299.9 L1026.5 289.8 L1027 293.2 L1027.5 303.3 L1028 312.4 L1028 331.7 L1027.5 330.2 L1027 338.8 L1026.5 349.5 L1026 360.2 L1025.5 370.9 L1025 360.6 L1024.5 368.8 L1024 380 L1023.5 368.8 L1023 357.7 L1022.5 346.5 L1022 349.8 L1021.5 360.6 L1021 370.2 L1020.5 359.4 L1020 348.7 L1019.5 356.8 L1019 367 L1018.5 356.8 L1018 347.4 L1017.5 347.5 L1017 341.2 L1016.5 334.9 L1016 328.6 L1015.5 326.4 L1015 325.9 L1014.5 326.7 L1014 331.3 L1013.5 335.8 L1013 340.4 L1012.5 340.3 L1012 335.8 L1011.5 331.2 L1011 326.6 L1010.5 329.4 L1010 333.6 L1009.5 337.8 L1009 338.2 L1008.5 333.9 L1008 329.7 L1007.5 325.5 L1007 324.5 L1006.5 323.6 L1006 323.7 L1005.5 324.3 L1005 326.5 L1004.5 328.7 L1004 330.6 L1003.5 328.4 L1003 326.2 L1002.5 324 L1002 323.2 L1001.5 323.6 L1001 324.9 L1000.5 326.3 L1000 326.6 L999.5 325.3 L999 323.9 L998.5 322.5 L998 322.5ZM1061 321.5 L1061.5 321.3 L1062 321.5 L1062.5 321.5 L1063 321.5 L1063 322.5 L1062.5 322.6 L1062 322.5 L1061.5 322.5 L1061 322.5ZM1064.5 321.5 L1065 321.5 L1065.5 320.3 L1066 318.8 L1066.5 317.2 L1067 317.4 L1067.5 318.9 L1068 320.5 L1068.5 319.7 L1069 317.1 L1069.5 314.6 L1070 312.6 L1070.5 315.2 L1071 317.8 L1071.5 320.1 L1072 319.7 L1072.5 319.9 L1073 320.4 L1073.5 319.3 L1074 315.4 L1074.5 311 L1075 306.6 L1075.5 306.2 L1076 310.6 L1076.5 315.1 L1077 317.8 L1077.5 313.3 L1078 308.8 L1078.5 304.3 L1079 303.5 L1079.5 308 L1080 312.5 L1080.5 317 L1081 318.3 L1081.5 314.5 L1082 308.6 L1082.5 302.7 L1083 296.8 L1083.5 299.2 L1084 305.1 L1084.5 311 L1085 315.9 L1085.5 305.5 L1086 293.6 L1086.5 281.8 L1087 270 L1087.5 281.8 L1088 293.6 L1088.5 304 L1089 300 L1089.5 291.5 L1090 288.2 L1090.5 294.1 L1091 281.4 L1091.5 268.7 L1092 256 L1092.5 268.7 L1093 281.4 L1093.5 294.1 L1094 306.8 L1094.5 319.5 L1094.5 324 L1094 334 L1093.5 344 L1093 354 L1092.5 364 L1092 374 L1091.5 364 L1091 354 L1090.5 344 L1090 351.8 L1089.5 357.2 L1089 347 L1088.5 336.7 L1088 343.8 L1087.5 352.9 L1087 362 L1086.5 352.9 L1086 343.8 L1085.5 334.7 L1085 327.4 L1084.5 329.8 L1084 336.5 L1083.5 343.3 L1083 350.1 L1082.5 346.9 L1082 340.2 L1081.5 333.4 L1081 326.6 L1080.5 325.3 L1080 326.6 L1079.5 325.7 L1079 331.6 L1078.5 337.6 L1078 343.7 L1077.5 340.2 L1077 334.2 L1076.5 328.1 L1076 324.3 L1075.5 328.9 L1075 334.7 L1074.5 340.6 L1074 340.6 L1073.5 334.7 L1073 328.8 L1072.5 324.5 L1072 323.5 L1071.5 324.4 L1071 326.6 L1070.5 328.7 L1070 330.4 L1069.5 328.3 L1069 326.2 L1068.5 324.3 L1068 325.7 L1067.5 326.7 L1067 325.3 L1066.5 323.9 L1066 322.7 L1065.5 322.5 L1065 322.5 L1064.5 322.5ZM1128.5 321.5 L1129 321.5 L1129 322.5 L1128.5 322.5ZM1132 321.5 L1132.5 321.5 L1133 321 L1133.5 320 L1134 319 L1134.5 318 L1135 318.9 L1135.5 319.8 L1136 320.8 L1136.5 319.2 L1137 316.6 L1137.5 314 L1138 314.7 L1138.5 317.3 L1139 319.9 L1139.5 320.8 L1140 320.5 L1140.5 317.7 L1141 314.7 L1141.5 311.6 L1142 310.4 L1142.5 313.5 L1143 316.5 L1143.5 319.2 L1144 318.5 L1144.5 314.6 L1145 310.6 L1145.5 306.7 L1146 305.6 L1146.5 309.5 L1147 313.5 L1147.5 317.4 L1148 317.9 L1148.5 318.2 L1149 314.7 L1149.5 307.8 L1150 300.2 L1150.5 291.1 L1151 282 L1151.5 291.1 L1152 300.2 L1152.5 309.3 L1153 310.7 L1153.5 303.1 L1154 295.5 L1154.5 287.9 L1155 294.3 L1155.5 285.7 L1156 277 L1156.5 285.7 L1157 294.3 L1157.5 303 L1158 299.3 L1158.5 290.7 L1159 299.8 L1159.5 308.9 L1160 315.4 L1160.5 315.1 L1161 316.2 L1161 327.7 L1160.5 328.3 L1160 329 L1159.5 330.7 L1159 338.9 L1158.5 347.2 L1158 349.9 L1157.5 341.7 L1157 344.8 L1156.5 351.9 L1156 359 L1155.5 351.9 L1155 344.8 L1154.5 342 L1154 347.9 L1153.5 344.2 L1153 338.4 L1152.5 332.5 L1152 338.4 L1151.5 345.2 L1151 352 L1150.5 345.2 L1150 344.1 L1149.5 342.3 L1149 336.7 L1148.5 331.1 L1148 326 L1147.5 325.7 L1147 328.4 L1146.5 333.8 L1146 339.2 L1145.5 341.4 L1145 336 L1144.5 330.6 L1144 325.2 L1143.5 324.8 L1143 327.6 L1142.5 331.1 L1142 334.2 L1141.5 330.6 L1141 327 L1140.5 323.8 L1140 323.8 L1139.5 323.6 L1139 326 L1138.5 328.7 L1138 331.4 L1137.5 331.3 L1137 328.6 L1136.5 325.9 L1136 323.2 L1135.5 324.1 L1135 325.6 L1134.5 327.1 L1134 327 L1133.5 325.5 L1133 323.9 L1132.5 322.5 L1132 322.5Z" fill="#0b3a4c" fill-opacity="0.75"/>
<line x1="266.6" y1="118" x2="266.6" y2="517.5" stroke="#000b13" stroke-opacity="0.8" stroke-width="3.0"/><line x1="399.2" y1="118" x2="399.2" y2="517.5" stroke="#000b13" stroke-opacity="0.8" stroke-width="3.0"/><line x1="531.7" y1="118" x2="531.7" y2="517.5" stroke="#000b13" stroke-opacity="0.8" stroke-width="3.0"/><line x1="664.3" y1="118" x2="664.3" y2="517.5" stroke="#000b13" stroke-opacity="0.8" stroke-width="3.9"/><line x1="796.8" y1="118" x2="796.8" y2="517.5" stroke="#000b13" stroke-opacity="0.8" stroke-width="3.0"/><line x1="929.4" y1="118" x2="929.4" y2="517.5" stroke="#000b13" stroke-opacity="0.8" stroke-width="3.0"/><line x1="995.7" y1="118" x2="995.7" y2="517.5" stroke="#000b13" stroke-opacity="0.8" stroke-width="3.0"/>
<line x1="134" y1="125.5" x2="134" y2="517.5" stroke="#000b13" stroke-opacity="0.8" stroke-width="3.8"/>
<g clip-path="url(#plot)"><path d="M995.7 174.5 L1062 223.5 L1062 174.5 L1128.2 223.5 L1128.2 174.5 L1194.5 223.5 L1194.5 517.5 L995.7 517.5Z" fill="url(#fgS)" mask="url(#mS)"/><path d="M134 517.5 L266.6 468.5 L266.6 517.5 L134 517.5Z" fill="url(#pg0)" mask="url(#pm0)"/><path d="M266.6 468.5 L399.2 370.5 L399.2 517.5 L266.6 517.5Z" fill="url(#pg1)" mask="url(#pm1)"/><path d="M399.2 419.5 L531.7 370.5 L531.7 517.5 L399.2 517.5Z" fill="url(#pg2)" mask="url(#pm2)"/><path d="M531.7 370.5 L664.3 272.5 L664.3 517.5 L531.7 517.5Z" fill="url(#pg3)" mask="url(#pm3)"/><path d="M796.8 272.5 L995.7 199 L995.7 517.5 L796.8 517.5Z" fill="url(#pg4)" mask="url(#pm4)"/><path d="M664.3 321.5 L730.6 297 L730.6 321.5 L796.8 297 L796.8 517.5 L664.3 517.5Z" fill="url(#fgT)" mask="url(#mT)"/></g>
<g stroke="#5aa0c0" stroke-opacity="0.055" stroke-width="1"><line x1="134" y1="125.5" x2="134" y2="517.5"/><line x1="167.2" y1="125.5" x2="167.2" y2="517.5"/><line x1="200.3" y1="125.5" x2="200.3" y2="517.5"/><line x1="233.5" y1="125.5" x2="233.5" y2="517.5"/><line x1="266.6" y1="125.5" x2="266.6" y2="517.5"/><line x1="299.7" y1="125.5" x2="299.7" y2="517.5"/><line x1="332.9" y1="125.5" x2="332.9" y2="517.5"/><line x1="366" y1="125.5" x2="366" y2="517.5"/><line x1="399.2" y1="125.5" x2="399.2" y2="517.5"/><line x1="432.3" y1="125.5" x2="432.3" y2="517.5"/><line x1="465.4" y1="125.5" x2="465.4" y2="517.5"/><line x1="498.6" y1="125.5" x2="498.6" y2="517.5"/><line x1="531.7" y1="125.5" x2="531.7" y2="517.5"/><line x1="564.9" y1="125.5" x2="564.9" y2="517.5"/><line x1="598" y1="125.5" x2="598" y2="517.5"/><line x1="631.1" y1="125.5" x2="631.1" y2="517.5"/><line x1="664.3" y1="125.5" x2="664.3" y2="517.5"/><line x1="697.4" y1="125.5" x2="697.4" y2="517.5"/><line x1="730.6" y1="125.5" x2="730.6" y2="517.5"/><line x1="763.7" y1="125.5" x2="763.7" y2="517.5"/><line x1="796.8" y1="125.5" x2="796.8" y2="517.5"/><line x1="830" y1="125.5" x2="830" y2="517.5"/><line x1="863.1" y1="125.5" x2="863.1" y2="517.5"/><line x1="896.3" y1="125.5" x2="896.3" y2="517.5"/><line x1="929.4" y1="125.5" x2="929.4" y2="517.5"/><line x1="962.5" y1="125.5" x2="962.5" y2="517.5"/><line x1="995.7" y1="125.5" x2="995.7" y2="517.5"/><line x1="1028.8" y1="125.5" x2="1028.8" y2="517.5"/><line x1="1062" y1="125.5" x2="1062" y2="517.5"/><line x1="1095.1" y1="125.5" x2="1095.1" y2="517.5"/><line x1="1128.2" y1="125.5" x2="1128.2" y2="517.5"/><line x1="1161.4" y1="125.5" x2="1161.4" y2="517.5"/><line x1="1194.5" y1="125.5" x2="1194.5" y2="517.5"/></g>
<g stroke="#5aa0c0" stroke-opacity="0.08" stroke-width="1"><line x1="134" y1="517.5" x2="1194.5" y2="517.5"/><line x1="134" y1="468.5" x2="1194.5" y2="468.5"/><line x1="134" y1="419.5" x2="1194.5" y2="419.5"/><line x1="134" y1="370.5" x2="1194.5" y2="370.5"/><line x1="134" y1="321.5" x2="1194.5" y2="321.5"/><line x1="134" y1="272.5" x2="1194.5" y2="272.5"/><line x1="134" y1="223.5" x2="1194.5" y2="223.5"/><line x1="134" y1="174.5" x2="1194.5" y2="174.5"/><line x1="134" y1="125.5" x2="1194.5" y2="125.5"/></g>
<line x1="134" y1="517.5" x2="1194.5" y2="125.5" stroke="#8b9aa4" stroke-opacity="0.7" stroke-width="1.1" stroke-dasharray="2.4 2.2"/>
<line x1="134" y1="125.5" x2="134" y2="517.5" stroke="#04485e" stroke-width="2.2"/>
<line x1="266.6" y1="118" x2="266.6" y2="517.5" stroke="#0a6580" stroke-width="1.4"/><path d="M265.9 99.4 L279.8 86.4 Q281 85.3 281 86.8 L281 106 L265.9 121.6 Z" fill="#0a657f"/><line x1="399.2" y1="118" x2="399.2" y2="517.5" stroke="#0a6580" stroke-width="1.4"/><path d="M398.5 99.4 L412.4 86.4 Q413.6 85.3 413.6 86.8 L413.6 106 L398.5 121.6 Z" fill="#0a657f"/><line x1="531.7" y1="118" x2="531.7" y2="517.5" stroke="#0a6580" stroke-width="1.4"/><path d="M531 99.4 L544.9 86.4 Q546.1 85.3 546.1 86.8 L546.1 106 L531 121.6 Z" fill="#0a657f"/><line x1="664.3" y1="118" x2="664.3" y2="517.5" stroke="#007a98" stroke-width="2.3"/><path d="M663.1 99.4 L677 86.4 Q678.2 85.3 678.2 86.8 L678.2 106 L663.1 121.6 Z" fill="#00d6fb"/><line x1="796.8" y1="118" x2="796.8" y2="517.5" stroke="#0a6580" stroke-width="1.4"/><path d="M796.1 99.4 L810 86.4 Q811.2 85.3 811.2 86.8 L811.2 106 L796.1 121.6 Z" fill="#0a657f"/><line x1="929.4" y1="118" x2="929.4" y2="517.5" stroke="#0a6580" stroke-width="1.4"/><path d="M928.7 99.4 L942.6 86.4 Q943.8 85.3 943.8 86.8 L943.8 106 L928.7 121.6 Z" fill="#0a657f"/><line x1="995.7" y1="118" x2="995.7" y2="517.5" stroke="#0a6580" stroke-width="1.4"/><path d="M995 99.4 L1008.9 86.4 Q1010.1 85.3 1010.1 86.8 L1010.1 106 L995 121.6 Z" fill="#0a657f"/>
<g><line x1="134" y1="517.5" x2="266.6" y2="468.5" stroke="#ff5cf2" stroke-width="2.2" stroke-linecap="round"/><line x1="266.6" y1="468.5" x2="399.2" y2="370.5" stroke="#ff5cf2" stroke-width="2.2" stroke-linecap="round"/><line x1="399.2" y1="419.5" x2="531.7" y2="370.5" stroke="#ff5cf2" stroke-width="2.2" stroke-linecap="round"/><line x1="531.7" y1="370.5" x2="664.3" y2="272.5" stroke="#ff5cf2" stroke-width="2.2" stroke-linecap="round"/><line x1="664.3" y1="321.5" x2="730.6" y2="297" stroke="#ff5cf2" stroke-width="5.6" stroke-linecap="round"/><line x1="730.6" y1="321.5" x2="796.8" y2="297" stroke="#ff5cf2" stroke-width="5.6" stroke-linecap="round"/><line x1="796.8" y1="272.5" x2="995.7" y2="199" stroke="#ff5cf2" stroke-width="2.2" stroke-linecap="round"/><line x1="995.7" y1="174.5" x2="1062" y2="223.5" stroke="#ff5cf2" stroke-width="2.2" stroke-linecap="round"/><line x1="1062" y1="174.5" x2="1128.2" y2="223.5" stroke="#ff5cf2" stroke-width="2.2" stroke-linecap="round"/><line x1="1128.2" y1="174.5" x2="1194.5" y2="223.5" stroke="#ff5cf2" stroke-width="2.2" stroke-linecap="round"/><line x1="730.6" y1="321.5" x2="730.6" y2="297" stroke="#d452d4" stroke-opacity="0.85" stroke-width="1"/><line x1="1062" y1="223.5" x2="1062" y2="174.5" stroke="#d452d4" stroke-opacity="0.85" stroke-width="1"/><line x1="1128.2" y1="223.5" x2="1128.2" y2="174.5" stroke="#d452d4" stroke-opacity="0.85" stroke-width="1"/></g>
<g font-family="Liberation Sans, sans-serif" font-size="13" fill="#0d6f8d" stroke="#0d6f8d" stroke-width="0.3"><text x="127.5" y="513.5" text-anchor="end">1</text><text x="127.5" y="415.5" text-anchor="end">2</text><text x="127.5" y="317.5" text-anchor="end">3</text><text x="127.5" y="219.5" text-anchor="end">4</text>
<text x="97.3" y="111.1" font-size="13.5" fill="#0d6884" stroke="#0d6884" stroke-width="0.2">Beat</text>
<text x="266.6" y="533.3" text-anchor="middle">1.5</text><text x="399.2" y="533.3" text-anchor="middle">2</text><text x="531.7" y="533.3" text-anchor="middle">2.5</text><text x="664.3" y="533.3" text-anchor="middle" fill="#12cdf2" stroke="#12cdf2" stroke-width="0.45">3</text><text x="796.8" y="533.3" text-anchor="middle">3.5</text><text x="929.4" y="533.3" text-anchor="middle">4</text><text x="995.7" y="533.3" text-anchor="middle">4.25</text></g>
</svg>
<div class="seg">
 <div style="left:0;width:83px">Time</div>
 <div class="sel" style="left:84px;width:83px">Repeat</div>
 <div style="left:168.2px;width:83px;letter-spacing:0.35px;padding-left:0.35px">Volume</div>
</div>
<div class="lbl" style="left:442.3px;top:12.6px;width:140px;letter-spacing:0.1px;padding-left:0.1px">Repeats</div>
<div class="val" style="left:442.4px;top:32.6px;width:140px;font-size:16px;line-height:16px;color:#f151e6;-webkit-text-stroke:0.2px #f151e6">2</div>
<div class="lbl" style="left:739.5px;top:12.6px;width:140px;letter-spacing:0.5px;padding-left:0.5px">Length</div>
<div class="val" style="left:731px;top:32px;width:140px;letter-spacing:0.5px;padding-left:0.5px">4 Beats</div>
<svg style="position:absolute;left:835px;top:34px" width="9" height="12" viewBox="0 0 9 12"><path d="M0.8 4.3 L4.5 0.9 L8.2 4.3 M0.8 7.7 L4.5 11.1 L8.2 7.7" fill="none" stroke="#0e7896" stroke-width="1.2"/></svg>
<div class="lbl" style="left:839.3px;top:12.6px;width:140px;letter-spacing:0.62px;padding-left:0.62px">De-click</div>
<div class="val" style="left:839.8px;top:32px;width:140px;letter-spacing:0.5px;padding-left:0.5px">50 %</div>
<div class="sep"></div>
<div class="lbl" style="left:955.8px;top:12.6px;width:140px;letter-spacing:0.14px;padding-left:0.14px">Bypass Below</div>
<div class="val" style="left:955.6px;top:32px;width:140px;letter-spacing:0.5px;padding-left:0.5px">Off</div>
<div class="lbl" style="left:1044.1px;top:12.6px;width:140px;letter-spacing:0.55px;padding-left:0.55px">Mix</div>
<div class="val" style="left:1044.3px;top:32px;width:140px;letter-spacing:0.5px;padding-left:0.5px">100 %</div>
<svg style="position:absolute;left:1174px;top:18px" width="24" height="24" viewBox="0 0 24 24"><circle cx="11.6" cy="12" r="9.1" fill="none" stroke="#10c4e6" stroke-width="1.8"/><circle cx="7" cy="12" r="1.55" fill="#10c4e6"/><circle cx="11.6" cy="12" r="1.55" fill="#10c4e6"/><circle cx="16.2" cy="12" r="1.55" fill="#10c4e6"/></svg>
<div class="bar"></div>
<div class="btm1"></div><div class="btm2"></div>
<div class="btn" style="left:12.1px">Pattern Off</div>
<div class="btn" style="left:116.0px">Custom</div>
<div class="btn" style="left:219.9px">Half Time</div>
<div class="btn" style="left:323.8px">Instant<br>Triplet</div>
<div class="btn" style="left:427.7px">Reverse End</div>
<div class="btn" style="left:531.6px">Skip Around</div>
<div class="btn on" style="left:635.5px">Sleight<br>of Hand</div>
<div class="btn" style="left:739.4px">Hold Back</div>
<div class="btn" style="left:843.3px">Scratch<br>Back</div>
<div class="btn" style="left:947.2px">Gate &amp;<br>Repeat</div>
<div class="btn" style="left:1051.1px">Instant Fill</div>
<svg style="position:absolute;left:0;top:0" width="1224" height="612" viewBox="0 0 1224 612"><g fill="#10c8ee" stroke="#10c8ee" stroke-width="0.5" stroke-linejoin="round"><path d="M1178.40 584.10 L1179.53 580.99 L1189.29 571.23 L1191.27 573.21 L1181.51 582.97Z"/><path d="M1190.28 570.24 L1192.26 568.26 L1194.24 570.24 L1192.26 572.22Z"/></g></svg>
</body></html>
